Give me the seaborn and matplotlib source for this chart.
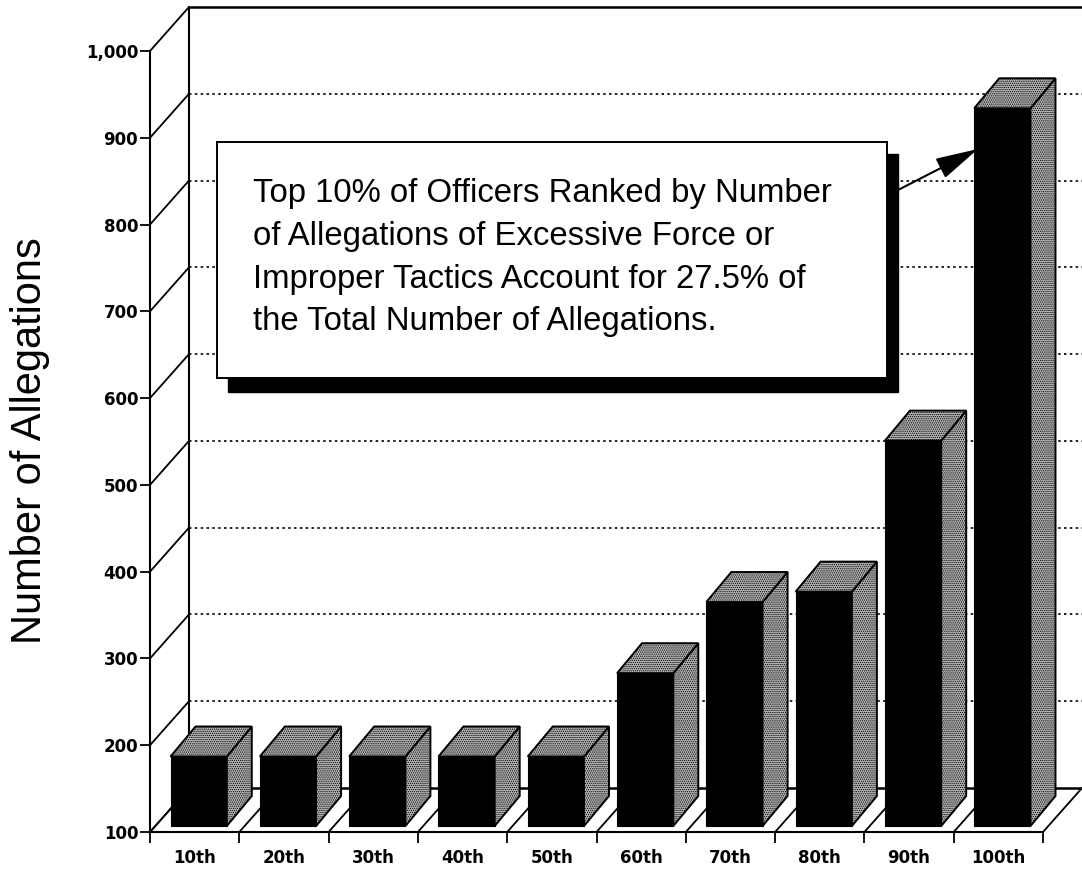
import matplotlib
matplotlib.use("Agg")
import matplotlib.pyplot as plt
from matplotlib.patches import Polygon, Rectangle
import numpy as np
import pandas as pd
import seaborn as sns

categories = ["10th", "20th", "30th", "40th", "50th", "60th", "70th", "80th", "90th", "100th"]
allegations = [187, 187, 187, 187, 187, 283, 365, 377, 551, 934]
y_ticks = [100, 200, 300, 400, 500, 600, 700, 800, 900, 1000]
y_tick_labels = ["100", "200", "300", "400", "500", "600", "700", "800", "900", "1,000"]
note_lines = ["Top 10% of Officers Ranked by Number",
              "of Allegations of Excessive Force or",
              "Improper Tactics Account for 27.5% of",
              "the Total Number of Allegations."]

W, H = 1082, 869
AX_L, AX_R, AX_B, AX_T = 150, 1043, 832, 51
sns.set_style("white")
plt.rcParams["font.family"] = ["Liberation Sans", "DejaVu Sans"]
plt.rcParams["hatch.linewidth"] = 0.6

fig = plt.figure(figsize=(W / 100, H / 100), dpi=100)
ax = fig.add_axes([AX_L / W, 1 - AX_B / H, (AX_R - AX_L) / W, (AX_B - AX_T) / H])

df = pd.DataFrame({"rank": categories, "n": allegations})
sns.barplot(data=df, x="rank", y="n", color="black", width=0.63, saturation=1,
            edgecolor="black", linewidth=0.8, ax=ax, zorder=3)

slot = (AX_R - AX_L) / 10
xoff = 0.545
ax.set_xlim(-xoff, 10 - xoff)
ax.set_ylim(100, 1000)
ax.autoscale(False)
ux = 1 / slot
uy = 900 / (AX_B - AX_T)

baseline = 100 + 6 * uy
depth_x, depth_y = 25 * ux, 30 * uy
for bar, v in zip(ax.patches, allegations):
    bar.set_y(baseline)
    bar.set_height(v - baseline)
    x0 = bar.get_x()
    x1 = x0 + bar.get_width()
    top = Polygon([(x0, v), (x1, v), (x1 + depth_x, v + depth_y), (x0 + depth_x, v + depth_y)],
                  closed=True, facecolor="#b4b4b4", edgecolor="black", hatch="........",
                  linewidth=1.4, zorder=3, clip_on=False)
    side = Polygon([(x1, baseline), (x1, v), (x1 + depth_x, v + depth_y), (x1 + depth_x, baseline + depth_y)],
                   closed=True, facecolor="#b4b4b4", edgecolor="black", hatch="........",
                   linewidth=1.4, zorder=3, clip_on=False)
    ax.add_patch(side)
    ax.add_patch(top)

# 3D frame
wall_x, wall_y = 39 * ux, 44 * uy
far_x = -xoff + (W + 5 - AX_L) * ux
grid_kw = dict(color="black", clip_on=False, zorder=1)
for v in y_ticks:
    ax.plot([-xoff, -xoff + wall_x], [v, v + wall_y], lw=1.3, **grid_kw)
    if v in (100, 1000):
        ax.plot([-xoff + wall_x, far_x], [v + wall_y, v + wall_y], lw=1.8, **grid_kw)
    else:
        ax.plot([-xoff + wall_x, far_x], [v + wall_y, v + wall_y], lw=1.2, ls=(0, (1.5, 2.0)), **grid_kw)
ax.plot([-xoff + wall_x, -xoff + wall_x], [100 + wall_y, 1000 + wall_y], lw=1.5, **grid_kw)
boundaries = np.arange(11) - xoff
for b in boundaries:
    ax.plot([b, b + wall_x], [100, 100 + wall_y], lw=1.3, **grid_kw)

for s in ("top", "right"):
    ax.spines[s].set_visible(False)
for s in ("left", "bottom"):
    ax.spines[s].set_visible(True)
    ax.spines[s].set_color("black")
    ax.spines[s].set_linewidth(1.5)

tick_font = dict(family="DejaVu Sans", fontsize=12, fontweight="bold", color="black")
ax.set_xticks(boundaries[:-1] + 0.5)
ax.set_xticklabels(categories, **tick_font)
ax.set_xticks(boundaries, minor=True)
ax.tick_params(axis="x", which="major", length=0, pad=12.5)
ax.tick_params(axis="x", which="minor", length=8, width=1.3, color="black", bottom=True)
ax.set_yticks(y_ticks)
ax.set_yticklabels(y_tick_labels, **tick_font)
ax.tick_params(axis="y", which="major", length=7, width=1.3, color="black", left=True, pad=1.5)
ax.set_xlabel("")
ax.set_ylabel("Number of Allegations", fontsize=30, color="black")
ax.yaxis.set_label_coords((50 - AX_L) / (AX_R - AX_L), (AX_B - 441) / (AX_B - AX_T))

# Annotation box, drawn in figure pixels
def fx(px): return px / W
def fy(py): return 1 - py / H
tr = fig.transFigure
fig.add_artist(Rectangle((fx(228), fy(392)), (898 - 228) / W, (392 - 154) / H, transform=tr,
                         facecolor="black", edgecolor="black", zorder=5))
fig.add_artist(Rectangle((fx(217), fy(378)), (887 - 217) / W, (378 - 142) / H, transform=tr,
                         facecolor="white", edgecolor="black", linewidth=1.4, zorder=6))
for line, py in zip(note_lines, [202, 245, 288, 330]):
    fig.text(fx(253), fy(py), line, fontsize=23.7, color="black", va="baseline", ha="left", zorder=7)
ax.annotate("", xy=(fx(978), fy(149)), xytext=(fx(898), fy(190)),
            xycoords="figure fraction", textcoords="figure fraction", zorder=7,
            arrowprops=dict(arrowstyle="-|>,head_length=1.66,head_width=0.42", color="black",
                            lw=1.5, shrinkA=0, shrinkB=0, mutation_scale=16), annotation_clip=False)

fig.savefig("out.png", dpi=100, facecolor="white")
